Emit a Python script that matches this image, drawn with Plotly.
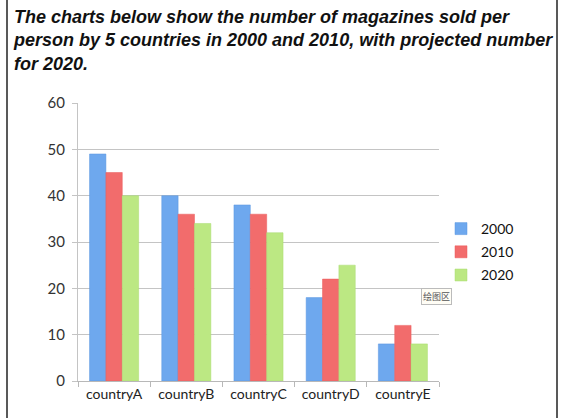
import plotly.graph_objects as go

categories = ["countryA", "countryB", "countryC", "countryD", "countryE"]
years = ["2000", "2010", "2020"]
sales_2000 = [49, 40, 38, 18, 8]
sales_2010 = [45, 36, 36, 22, 12]
sales_2020 = [40, 34, 32, 25, 8]
y_ticks = [0, 10, 20, 30, 40, 50, 60]

series = [sales_2000, sales_2010, sales_2020]
colors = ["#6ea8ee", "#f26c6c", "#bce883"]
edge = ["#5a96e0", "#ea5a5a", "#a8dc70"]

W, H = 568, 418
L, R, T, B = 78, 129, 103, 37
pw, ph = W - L - R, H - T - B

fig = go.Figure()
for i, (yr, vals) in enumerate(zip(years, series)):
    fig.add_trace(go.Bar(
        x=categories, y=vals, name=yr,
        marker=dict(color=colors[i], line=dict(color=edge[i], width=0.5)),
        legendgroup=yr,
    ))

def px_x(p):
    return (p - L) / pw

def px_y(p):
    return (H - B - p) / ph

fig.update_layout(
    width=W, height=H,
    margin=dict(l=L, r=R, t=T, b=B),
    paper_bgcolor="white", plot_bgcolor="white",
    barmode="group", bargap=0.32, bargroupgap=0.0,
    font=dict(family="Lato", size=13, color="#333"),
    xaxis=dict(
        showgrid=False, showline=True, linecolor="#b8b8b8", linewidth=1,
        ticks="outside", ticklen=5, tickcolor="#b8b8b8",
        tickson="boundaries", tickfont=dict(family="Lato", size=14, color="#222"),
    ),
    yaxis=dict(
        range=[0, 60], tickvals=y_ticks, showgrid=True, gridcolor="#c4c4c4",
        gridwidth=1, showline=True, linecolor="#c4c4c4", zeroline=False,
        ticks="outside", ticklen=5, tickcolor="#c4c4c4",
        ticklabelstandoff=4,
        tickfont=dict(family="Lato", size=15, color="#333"),
    ),
    legend=dict(
        x=px_x(441), xanchor="left", y=px_y(252), yanchor="middle",
        font=dict(family="Lato", size=14, color="#111"),
        tracegroupgap=2, traceorder="grouped",
        itemwidth=30,
        bgcolor="rgba(0,0,0,0)",
    ),
    showlegend=True,
)

fig.add_annotation(
    text="<b><i>The charts below show the number of magazines sold per<br>"
         "person by 5 countries in 2000 and 2010, with projected number<br>"
         "for 2020.</i></b>",
    xref="paper", yref="paper", x=px_x(11), y=px_y(5),
    xanchor="left", yanchor="top", align="left", showarrow=False,
    font=dict(family="Liberation Sans, Arial", size=18, color="#111"),
)

# outer frame lines (left and right)
for xp in (7, 557):
    fig.add_shape(type="line", xref="paper", yref="paper",
                  x0=px_x(xp), x1=px_x(xp), y0=px_y(0), y1=px_y(H),
                  line=dict(color="#222", width=1.5))

fig.add_annotation(
    text="绘图区", xref="paper", yref="paper",
    x=px_x(436), y=px_y(296), showarrow=False,
    xanchor="center", yanchor="middle",
    font=dict(family="Noto Sans CJK SC", size=9, color="#555"),
    bordercolor="#bbb", borderwidth=1, borderpad=1, bgcolor="#fffdf5",
)

fig.write_html("out.html", config={"displayModeBar": False},
               post_script="document.body.style.margin='0';")
